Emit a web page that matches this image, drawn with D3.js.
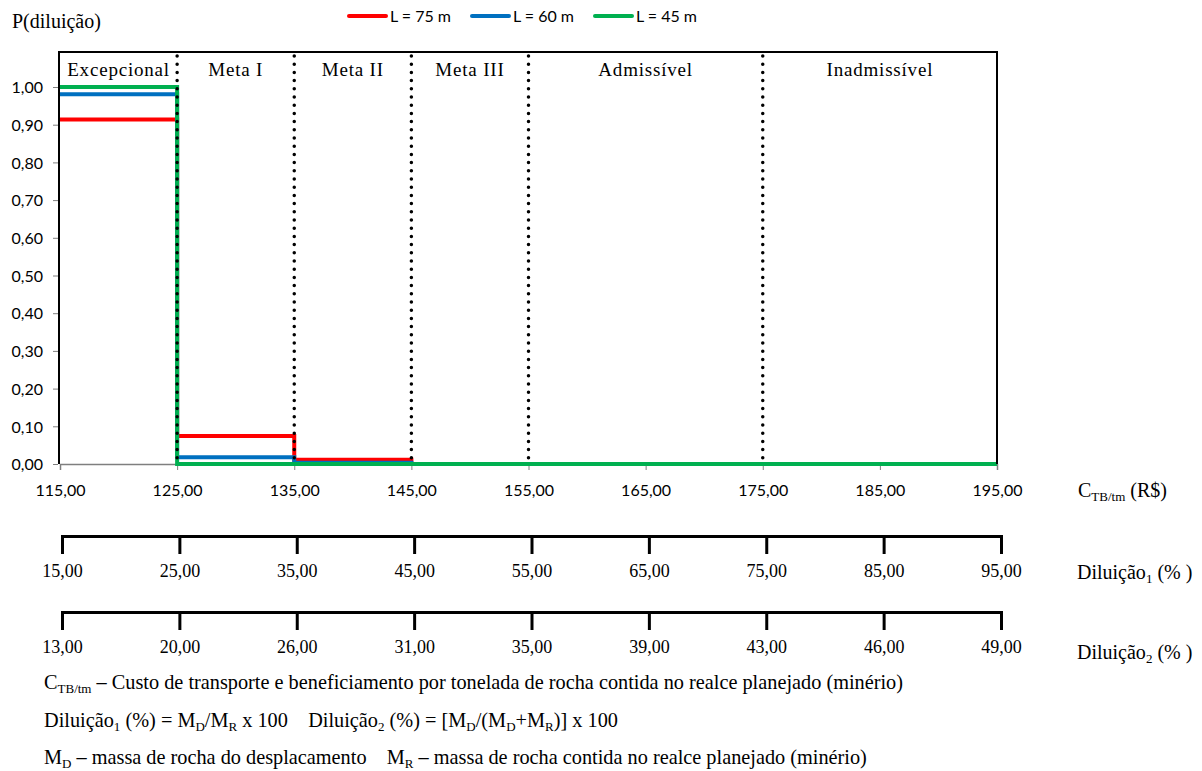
<!DOCTYPE html>
<html lang="pt">
<head>
  <meta charset="UTF-8">
  <title>P(diluição)</title>
  <script src="https://d3js.org/d3.v7.min.js"></script>
  <style>
    body { margin: 0; background: #fff; }
    svg text { fill: #000; }
    .num { font-family: Lato, "Open Sans", sans-serif; font-size: 16px; }
    .serif { font-family: "Liberation Serif", "Times New Roman", serif; white-space: pre; }
  </style>
</head>
<body>
  <svg></svg>
  <script>
    // C_TB/tm breakpoints (R$) and step values of P(diluição) per interval
    const costBreaks = [115, 125, 135, 145, 155, 165, 175, 185, 195];
    const seriesNames = ['L = 75 m', 'L = 60 m', 'L = 45 m'];
    const seriesColors = ['#ff0000', '#0070c0', '#00b050'];
    const pL75 = [0.914, 0.074, 0.011, 0, 0, 0, 0, 0];
    const pL60 = [0.981, 0.018, 0.003, 0, 0, 0, 0, 0];
    const pL45 = [1.000, 0.000, 0.000, 0, 0, 0, 0, 0];
    const yTicks = [0, 0.1, 0.2, 0.3, 0.4, 0.5, 0.6, 0.7, 0.8, 0.9, 1.0];
    const zoneNames = ['Excepcional', 'Meta I', 'Meta II', 'Meta III', 'Admissível', 'Inadmissível'];
    const zoneLimits = [115, 125, 135, 145, 155, 175, 195];
    const dil1Labels = ['15,00', '25,00', '35,00', '45,00', '55,00', '65,00', '75,00', '85,00', '95,00'];
    const dil2Labels = ['13,00', '20,00', '26,00', '31,00', '35,00', '39,00', '43,00', '46,00', '49,00'];

    const W = 1202, H = 771;
    const plot = { left: 59, right: 997, top: 52, bottom: 464 };
    const fmt = v => d3.format('.2f')(v).replace('.', ',');

    const svg = d3.select('svg')
        .attr('width', W)
        .attr('height', H);

    const x = d3.scaleLinear().domain([115, 195]).range([plot.left + 1, plot.right]);
    const y = d3.scaleLinear().domain([0, 1]).range([plot.bottom, 87]);

    // y axis
    const yAxis = svg.append('g')
        .attr('transform', `translate(${plot.left - 1},0)`)
        .call(d3.axisLeft(y).tickValues(yTicks).tickSize(5).tickPadding(10).tickFormat(fmt));
    yAxis.select('.domain').remove();
    yAxis.selectAll('line').attr('stroke', '#7f7f7f');
    yAxis.selectAll('text').attr('class', 'num').attr('dy', '0.36em');

    // x axis
    const xAxis = svg.append('g')
        .attr('transform', `translate(0,${plot.bottom})`)
        .call(d3.axisBottom(x).tickValues(costBreaks).tickSize(6).tickPadding(15).tickFormat(fmt));
    xAxis.select('.domain').attr('stroke', '#7f7f7f').attr('stroke-width', 1.5);
    xAxis.selectAll('line').attr('stroke', '#7f7f7f');
    xAxis.selectAll('text').attr('class', 'num');

    // series as step lines
    const line = d3.line()
        .x(d => x(d[0]))
        .y(d => y(d[1]))
        .curve(d3.curveStepAfter);

    [pL75, pL60, pL45].forEach((vals, i) => {
      const pts = costBreaks.map((b, j) => [b, vals[Math.min(j, vals.length - 1)]]);
      svg.append('path')
          .datum(pts)
          .attr('fill', 'none')
          .attr('stroke', seriesColors[i])
          .attr('stroke-width', 4)
          .attr('d', line);
    });

    // frame
    svg.append('path')
        .attr('d', `M${plot.left},${plot.bottom}V${plot.top}H${plot.right}V${plot.bottom}`)
        .attr('fill', 'none')
        .attr('stroke', '#000')
        .attr('stroke-width', 2);

    // zone dividers
    svg.selectAll('.divider')
        .data(zoneLimits.slice(1, -1))
        .enter()
        .append('line')
        .attr('x1', d => x(d))
        .attr('x2', d => x(d))
        .attr('y1', plot.top + 4)
        .attr('y2', plot.bottom - 4)
        .attr('stroke', '#000')
        .attr('stroke-width', 3.5)
        .attr('stroke-linecap', 'round')
        .attr('stroke-dasharray', '0 8.2');

    // zone labels
    svg.selectAll('.zone')
        .data(zoneNames)
        .enter()
        .append('text')
        .attr('class', 'serif')
        .attr('x', (d, i) => (x(zoneLimits[i]) + x(zoneLimits[i + 1])) / 2)
        .attr('y', 76)
        .attr('text-anchor', 'middle')
        .style('font-size', '19px')
        .style('letter-spacing', '0.8px')
        .text(d => d);

    // title
    svg.append('text')
        .attr('class', 'serif')
        .attr('x', 12)
        .attr('y', 28)
        .style('font-size', '20px')
        .text('P(diluição)');

    // legend
    const legendX = [349, 472, 595];
    seriesNames.forEach((name, i) => {
      svg.append('line')
          .attr('x1', legendX[i]).attr('x2', legendX[i] + 37)
          .attr('y1', 16).attr('y2', 16)
          .attr('stroke', seriesColors[i])
          .attr('stroke-width', 4)
          .attr('stroke-linecap', 'round');
      svg.append('text')
          .attr('class', 'num')
          .attr('x', legendX[i] + 41)
          .attr('y', 22)
          .text(name);
    });

    // secondary axes (Diluição1 and Diluição2)
    function secondaryAxis(labels, yPos) {
      const s = d3.scalePoint().domain(labels).range([62, 1001]);
      const g = svg.append('g')
          .attr('transform', `translate(0,${yPos})`)
          .call(d3.axisBottom(s).tickSize(18).tickSizeOuter(18).tickPadding(10));
      g.select('.domain').attr('stroke', '#000').attr('stroke-width', 3);
      g.selectAll('line').attr('stroke', '#000').attr('stroke-width', 3);
      g.selectAll('text')
          .attr('class', 'serif')
          .style('font-size', '18px');
    }
    secondaryAxis(dil1Labels, 536);
    secondaryAxis(dil2Labels, 612);

    // text with subscripts: parts alternate normal / subscript
    function richText(xPos, yPos, parts, size) {
      const t = svg.append('text')
          .attr('class', 'serif')
          .attr('x', xPos)
          .attr('y', yPos)
          .style('font-size', size + 'px');
      parts.forEach((p, i) => {
        const span = t.append('tspan').text(p);
        if (i % 2 === 1) span.attr('dy', 4).style('font-size', Math.round(size * 0.66) + 'px');
        else if (i > 0) span.attr('dy', -4);
      });
      return t;
    }
    richText(1078, 497, ['C', 'TB/tm', ' (R$)'], 20);
    richText(1077, 579, ['Diluição', '1', ' (% )'], 20);
    richText(1077, 659, ['Diluição', '2', ' (% )'], 20);

    // notes
    richText(44, 689, ['C', 'TB/tm', ' – Custo de transporte e beneficiamento por tonelada de rocha contida no realce planejado (minério)'], 20.3);
    richText(44, 727, ['Diluição', '1', ' (%) = M', 'D', '/M', 'R', ' x 100    Diluição', '2', ' (%) = [M', 'D', '/(M', 'D', '+M', 'R', ')] x 100'], 20.3);
    richText(44, 764, ['M', 'D', ' – massa de rocha do desplacamento    M', 'R', ' – massa de rocha contida no realce planejado (minério)'], 20.3);
  </script>
</body>
</html>
